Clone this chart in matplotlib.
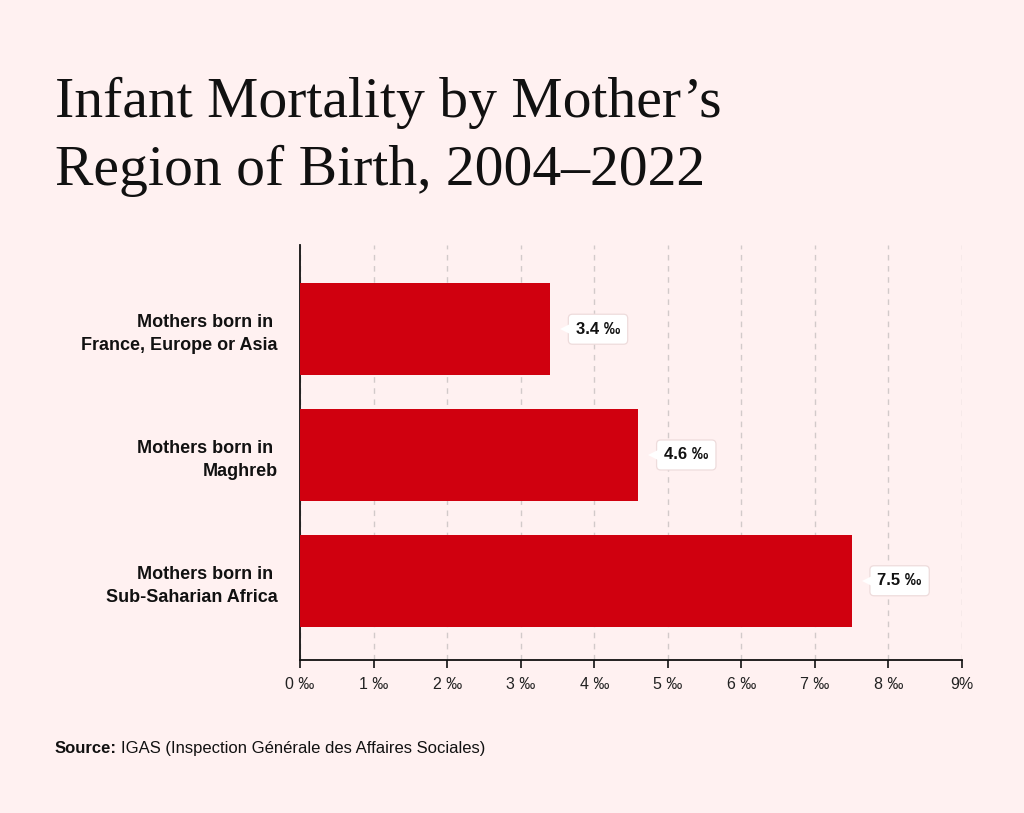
import matplotlib
matplotlib.use('Agg')
import matplotlib.pyplot as plt
from matplotlib.offsetbox import HPacker, TextArea, AnnotationBbox
from matplotlib.transforms import ScaledTranslation

categories = ['Mothers born in \nFrance, Europe or Asia',
              'Mothers born in \nMaghreb',
              'Mothers born in \nSub-Saharian Africa']
values = [3.4, 4.6, 7.5]
value_labels = ['3.4 ‰', '4.6 ‰', '7.5 ‰']
ticks = [0, 1, 2, 3, 4, 5, 6, 7, 8, 9]
tick_labels = ['0 ‰', '1 ‰', '2 ‰', '3 ‰', '4 ‰', '5 ‰', '6 ‰', '7 ‰', '8 ‰', '9%']

bg = '#FFF1F1'
red = '#D0000F'

plt.rcParams['font.family'] = ['Liberation Sans', 'DejaVu Sans']

fig = plt.figure(figsize=(10.24, 8.13), dpi=100, facecolor=bg)
ax = fig.add_axes([0.293, 0.1882, 0.6465, 0.5105], facecolor=bg)

y = list(range(len(categories)))
ax.barh(y, values, height=0.73, color=red, zorder=3)

ax.set_xlim(0, 9)
ax.set_ylim(2.63, -0.67)
ax.set_xticks(ticks)
ax.set_xticklabels(tick_labels, fontsize=11.5, color='#222222')
ax.set_yticks(y)
ax.set_yticklabels(categories, fontsize=13, fontweight='bold', color='#111111',
                   linespacing=1.45)
ax.tick_params(axis='y', length=0, pad=16)
ax.tick_params(axis='x', length=6, width=1.2, color='#111111', pad=6)
ax.grid(axis='x', color='#D2CACA', linestyle=(0, (4, 4)), linewidth=1, zorder=0)
for s in ['top', 'right']:
    ax.spines[s].set_visible(False)
for s in ['left', 'bottom']:
    ax.spines[s].set_color('#111111')
    ax.spines[s].set_linewidth(1.3)

# value boxes with a small pointer to the left
shift = ScaledTranslation(11.5 / 72, 0, fig.dpi_scale_trans)
for yi, v, lab in zip(y, values, value_labels):
    ax.annotate(lab, xy=(v, yi), xytext=(18.5, 0), textcoords='offset points',
                ha='left', va='center', fontsize=12, fontweight='bold', color='#111111',
                bbox=dict(boxstyle='round,pad=0.45,rounding_size=0.25', fc='white',
                          ec='#EEDCDC', lw=0.9),
                zorder=5)
    ax.plot([v], [yi], marker='<', markersize=8, color='white', markeredgewidth=0,
            transform=ax.transData + shift, zorder=6, clip_on=False)

fig.text(0.0537, 1 - 117 / 813, 'Infant Mortality by Mother\u2019s', fontsize=41.5,
         family='Liberation Serif', color='#111111', va='baseline')
fig.text(0.0537, 1 - 185 / 813, 'Region of Birth, 2004\u20132022', fontsize=41.5,
         family='Liberation Serif', color='#111111', va='baseline')

src_b = TextArea('Source:', textprops=dict(fontsize=12, fontweight='bold', color='#111111'))
src_r = TextArea('IGAS (Inspection Générale des Affaires Sociales)',
                 textprops=dict(fontsize=12, color='#111111'))
pack = HPacker(children=[src_b, src_r], pad=0, sep=3, align='baseline')
ab = AnnotationBbox(pack, (0.0537, 1 - 748 / 813), xycoords='figure fraction',
                    box_alignment=(0, 0.5), frameon=False)
fig.add_artist(ab)

fig.savefig('out.png', dpi=100, facecolor=bg)
